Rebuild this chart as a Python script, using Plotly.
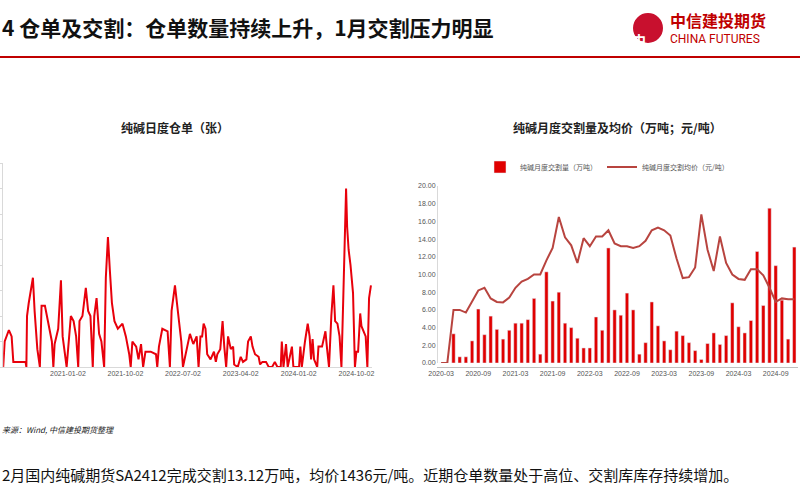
import plotly.graph_objects as go

# Left chart: soda ash daily warehouse receipts (approx, in gridline units)
receipt_dates = ["2020-03-01","2020-03-08","2020-03-28","2020-04-10","2020-04-18","2020-06-15","2020-06-19","2020-06-22","2020-06-30","2020-07-20","2020-07-28","2020-08-10","2020-08-22","2020-08-30","2020-09-15","2020-10-07","2020-10-18","2020-10-25","2020-10-31","2020-11-17","2020-11-30","2020-12-08","2020-12-27","2021-01-04","2021-01-16","2021-01-29","2021-02-10","2021-02-20","2021-02-26","2021-03-12","2021-03-28","2021-04-08","2021-04-19","2021-04-30","2021-05-07","2021-05-18","2021-05-30","2021-06-10","2021-06-23","2021-07-01","2021-07-11","2021-07-20","2021-07-30","2021-08-11","2021-08-27","2021-09-18","2021-10-04","2021-10-20","2021-10-27","2021-11-04","2021-11-22","2021-12-03","2021-12-15","2021-12-25","2022-01-05","2022-01-30","2022-02-24","2022-03-02","2022-03-10","2022-03-26","2022-04-20","2022-05-01","2022-05-09","2022-05-25","2022-06-08","2022-06-24","2022-07-02","2022-08-04","2022-08-20","2022-09-05","2022-09-14","2022-09-23","2022-10-01","2022-10-08","2022-10-17","2022-10-25","2022-11-10","2022-11-26","2022-12-05","2022-12-12","2022-12-26","2023-01-06","2023-01-14","2023-01-23","2023-02-01","2023-02-14","2023-02-25","2023-03-02","2023-03-19","2023-04-02","2023-04-13","2023-04-29","2023-05-07","2023-05-20","2023-05-28","2023-06-09","2023-06-26","2023-07-03","2023-07-14","2023-07-31","2023-08-13","2023-08-29","2023-09-11","2023-09-23","2023-10-09","2023-10-14","2023-10-22","2023-11-03","2023-11-11","2023-12-01","2023-12-08","2024-01-04","2024-01-10","2024-01-17","2024-02-01","2024-02-14","2024-02-23","2024-03-01","2024-03-08","2024-03-15","2024-03-30","2024-04-05","2024-04-22","2024-05-08","2024-05-16","2024-05-25","2024-06-05","2024-06-15","2024-06-23","2024-07-04","2024-07-14","2024-07-23","2024-08-01","2024-08-09","2024-08-14","2024-08-19","2024-08-26","2024-09-04","2024-09-16","2024-09-25","2024-10-02","2024-10-10","2024-10-20","2024-10-26","2024-11-04","2024-11-15","2024-11-23","2024-12-01","2024-12-10"]
receipt_vals = [0,1.0,1.45,1.2,0.2,0.2,0,2.0,2.5,3.5,2.2,0.7,0,2.4,2.4,1.4,1.0,0,0.9,1.5,3.4,1.2,0,0.8,2.0,1.8,1.2,0,1.8,2.0,3.1,2.2,2.0,0,2.0,2.7,1.3,1.0,0,3.5,5.1,3.8,2.5,1.8,1.5,1.7,1.2,0.5,0,1.0,0.8,0.3,0.9,0,0.6,0.6,0.5,0,0.8,1.5,1.4,0,2.2,3.2,2.2,1.0,0,1.3,0.9,1.2,0,1.2,1.2,1.7,1.5,0.5,0.3,0.6,0.2,0.5,0.7,1.8,0.8,0,1.2,0.7,0.8,0.1,0,0.4,0.2,0.3,1.0,1.2,0.8,0.5,0.4,0.1,0.2,0.2,0,0,0.2,0,0,1.0,0,0.9,0,0.8,0,0,0.8,0,1.0,1.7,1.2,0.3,1.1,0.3,0,0.8,0.8,1.4,0.7,0,2.0,3.2,1.8,1.7,1.2,0,2.8,5.3,7.0,5.5,4.6,4.0,2.9,0,0.6,0.6,2.1,1.6,1.4,1.2,0,2.7,3.2]
left_ticks = ["2020-04-02","2021-01-02","2021-10-02","2022-07-02","2023-04-02","2024-01-02","2024-10-02"]

# Right chart: monthly delivery volume (10k t) and average price (scaled)
months = [f"{y}-{m:02d}" for y in range(2020, 2025) for m in range(1, 13)][2:]
delivery_vol = [0,0,3.3,0.7,0.7,2.5,6.1,3.2,5.3,3.8,2.7,3.7,4.5,4.5,4.9,7.3,1.0,10.3,7.0,8.0,4.5,4.0,2.8,1.7,1.7,5.2,3.7,13.0,6.0,5.4,7.9,6.0,1.0,2.3,6.9,4.2,2.5,1.5,3.6,3.1,2.3,1.4,0.4,2.2,3.4,2.1,3.1,6.8,4.1,3.4,4.8,12.6,6.5,17.5,11.0,7.1,2.7,13.1]
delivery_price = [0,0,6.0,6.0,5.7,6.9,8.2,8.5,7.3,6.9,6.85,7.4,8.5,9.2,9.5,10.0,10.0,11.6,13.0,16.5,14.2,13.3,11.3,14.1,13.2,14.3,14.3,15.0,13.5,13.2,13.2,13.0,13.2,13.8,15.0,15.3,15.0,14.4,11.8,9.6,9.7,10.8,16.8,12.8,10.4,14.3,11.3,10.0,9.5,9.4,10.6,10.6,9.9,8.5,6.9,7.3,7.2,7.2]
right_ticks = ["2020-03","2020-09","2021-03","2021-09","2022-03","2022-09","2023-03","2023-09","2024-03","2024-09"]

CJK = "Noto Sans CJK SC"
fig = go.Figure()
fig.add_trace(go.Scatter(x=receipt_dates, y=receipt_vals, mode="lines",
                         line=dict(color="#E8000B", width=2), showlegend=False,
                         xaxis="x", yaxis="y"))
fig.add_trace(go.Bar(x=months, y=delivery_vol, name="纯碱月度交割量（万吨）",
                     marker_color="#E00000", width=0.55, xaxis="x2", yaxis="y2"))
fig.add_trace(go.Scatter(x=months, y=delivery_price, mode="lines", name="纯碱月度交割均价（元/吨）",
                         line=dict(color="#B8443F", width=2), xaxis="x2", yaxis="y2"))

axfont = dict(size=7, color="#555", family="Liberation Sans")
fig.update_layout(
    width=800, height=500, margin=dict(l=0, r=0, t=0, b=0, pad=0, autoexpand=False),
    paper_bgcolor="white", plot_bgcolor="white", bargap=0.45,
    xaxis=dict(domain=[0.004, 0.465], type="date", range=["2020-03-01", "2024-12-15"],
               tickvals=left_ticks, tickformat="%Y-%m-%d", tickfont=axfont,
               showline=True, linecolor="#d9d9d9", showgrid=False, ticks="", automargin=False),
    yaxis=dict(domain=[0.266, 0.674], range=[0, 8], dtick=1, showticklabels=False,
               showline=True, linecolor="#d9d9d9", ticks="outside", ticklen=3,
               tickcolor="#d9d9d9", showgrid=False, zeroline=False, automargin=False),
    xaxis2=dict(domain=[0.5475, 0.9975], type="category", tickvals=right_ticks,
                range=[-0.5, 57.6], tickfont=axfont, tickangle=0, automargin=False,
                showline=True, linecolor="#bfbfbf", showgrid=False, ticks=""),
    yaxis2=dict(domain=[0.274, 0.628], range=[0, 20], dtick=2, tickformat=".2f",
                tickfont=axfont, showline=True, linecolor="#d9d9d9", showgrid=False,
                zeroline=False, anchor="x2", automargin=False),
    legend=dict(orientation="h", x=0.6, y=0.666, xanchor="left", yanchor="middle",
                font=dict(size=7, color="#555", family=CJK), bgcolor="rgba(0,0,0,0)",
                itemwidth=30),
    font=dict(family=CJK),
)
anns = [
    dict(x=0.0, y=27, text="<b>4 仓单及交割：仓单数量持续上升，1月交割压力明显</b>",
         font=dict(size=21, color="#111")),
    dict(x=668/800, y=20, text="<b>中信建投期货</b>", font=dict(size=16, color="#c00000")),
    dict(x=668/800, y=39, text="CHINA FUTURES", font=dict(size=12, color="#c00000", family="Roboto")),
    dict(x=175/800, y=127, text="<b>纯碱日度仓单（张）</b>", font=dict(size=12, color="#222"), xanchor="center"),
    dict(x=617/800, y=127, text="<b>纯碱月度交割量及均价（万吨；元/吨）</b>", font=dict(size=12, color="#222"), xanchor="center"),
    dict(x=0.0, y=429, text="<i>来源：Wind, 中信建投期货整理</i>", font=dict(size=8, color="#222")),
    dict(x=0.0, y=474, text="2月国内纯碱期货SA2412完成交割13.12万吨，均价1436元/吨。近期仓单数量处于高位、交割库库存持续增加。",
         font=dict(size=15, color="#111")),
]
for a in anns:
    y = 1 - a.pop("y") / 500
    a.setdefault("xanchor", "left")
    fig.add_annotation(xref="paper", yref="paper", y=y, yanchor="middle", showarrow=False, **a)

fig.add_shape(type="line", xref="paper", yref="paper", x0=0, x1=1, y0=1-57/500, y1=1-57/500,
              line=dict(color="#c00000", width=2))
fig.add_shape(type="circle", xref="paper", yref="paper", x0=634/800, x1=662/800,
              y0=1-42/500, y1=1-14/500, fillcolor="#c8102e", line=dict(color="#c8102e"))
fig.add_annotation(xref="paper", yref="paper", x=648/800, y=1-28/500, text="<b>中</b>",
                   showarrow=False, font=dict(size=14, color="white"))

fig.write_html("out.html", config={"displayModeBar": False},
               post_script="document.body.style.margin='0';document.body.style.overflow='hidden';")
